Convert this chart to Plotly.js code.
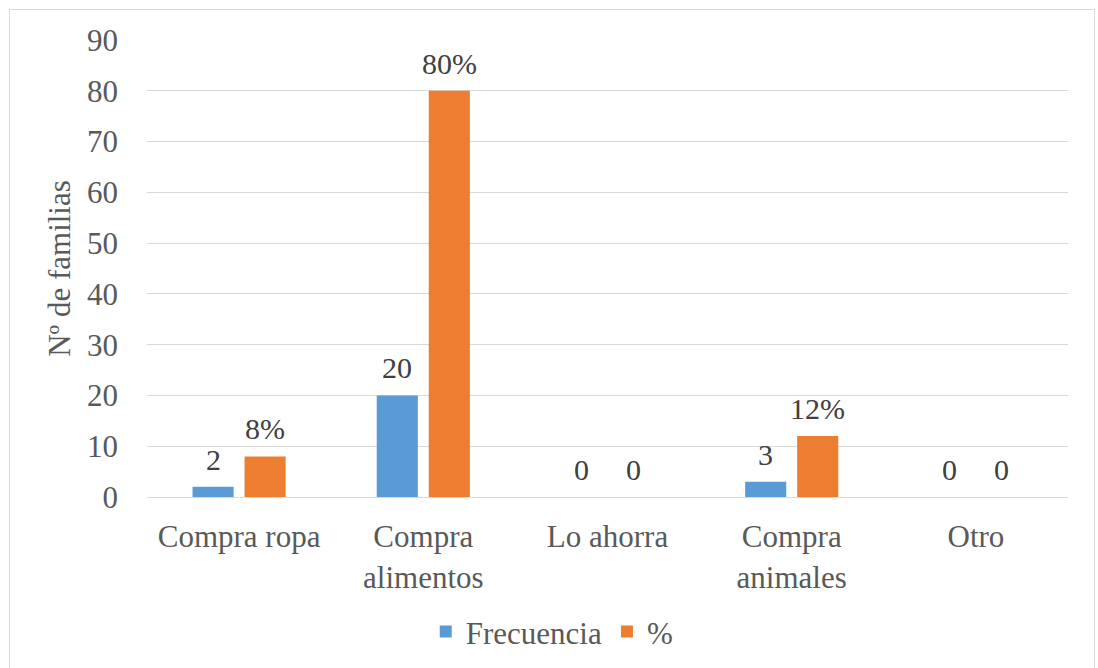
<!DOCTYPE html>
<html>
<head>
<meta charset="utf-8">
<script src="https://cdn.plot.ly/plotly-3.0.1.min.js"></script>
<style>
  html, body { margin: 0; padding: 0; background: #fff; overflow: hidden; }
  #wrap { position: relative; width: 1098px; height: 668px; }
  #chart { width: 1098px; height: 668px; }
  #frame { position: absolute; left: 9px; top: 9px; width: 1086px; height: 700px;
           border: 1px solid #D9D9D9; pointer-events: none; box-sizing: border-box; }
</style>
</head>
<body>
<div id="wrap">
  <div id="chart"></div>
  <div id="frame"></div>
</div>
<script>
const categories = ["Compra ropa", "Compra<br>alimentos", "Lo ahorra", "Compra<br>animales", "Otro"];
const frecuencia = [2, 20, 0, 3, 0];
const porcentaje = [8, 80, 0, 12, 0];
const frecuenciaLabels = ["2", "20", "0", "3", "0"];
const porcentajeLabels = ["8%", "80%", "0", "12%", "0"];
const yTicks = [0, 10, 20, 30, 40, 50, 60, 70, 80, 90];

const FONT = "Liberation Serif, Times New Roman, serif";
const TXT = "#595959";
const FS = 31;
const LABEL_FONT = { family: FONT, size: 30, color: "#404040" };

const traces = [
  { type: "bar", name: "Frecuencia", x: categories, y: frecuencia,
    marker: { color: "#5B9BD5" }, hoverinfo: "x+y" },
  { type: "bar", name: "%", x: categories, y: porcentaje,
    marker: { color: "#ED7D31" }, hoverinfo: "x+y" }
];

// data labels placed on the bars' own data coordinates, shifted to each bar of the group
const SERIES_SHIFT = 26;
const annotations = [];
categories.forEach((c, i) => {
  annotations.push({ x: c, y: frecuencia[i], text: frecuenciaLabels[i], xref: "x", yref: "y",
    xshift: -SERIES_SHIFT, yshift: 9, yanchor: "bottom", showarrow: false, font: LABEL_FONT });
  annotations.push({ x: c, y: porcentaje[i], text: porcentajeLabels[i], xref: "x", yref: "y",
    xshift: SERIES_SHIFT, yshift: 9, yanchor: "bottom", showarrow: false, font: LABEL_FONT });
});

const layout = {
  width: 1098, height: 668,
  margin: { l: 147, r: 30, t: 40, b: 171 },
  paper_bgcolor: "#fff", plot_bgcolor: "#fff",
  font: { family: FONT, size: FS, color: TXT },
  barmode: "group", bargap: 0.435, bargroupgap: 0.21,
  showlegend: true,
  legend: {
    orientation: "h", x: 0.44, xanchor: "center",
    yref: "container", y: 0.054, yanchor: "middle",
    font: { family: FONT, size: FS, color: TXT }, itemsizing: "constant"
  },
  annotations: annotations,
  xaxis: {
    type: "category", tickfont: { family: FONT, size: FS, color: TXT },
    showgrid: false, showline: true, linecolor: "#D9D9D9", linewidth: 1,
    ticks: "", ticklabelstandoff: 12, fixedrange: true, automargin: false
  },
  yaxis: {
    range: [0, 90], tickvals: yTicks, ticktext: yTicks.map(String),
    tickfont: { family: FONT, size: FS, color: TXT },
    showgrid: true, gridcolor: "#D9D9D9", gridwidth: 1,
    zeroline: false, showline: false, ticks: "", ticklabelstandoff: 28,
    title: { text: "Nº de familias", font: { family: FONT, size: FS, color: TXT }, standoff: 7 },
    fixedrange: true, automargin: false
  }
};

Plotly.newPlot("chart", traces, layout, { displayModeBar: false, staticPlot: true });
</script>
</body>
</html>
